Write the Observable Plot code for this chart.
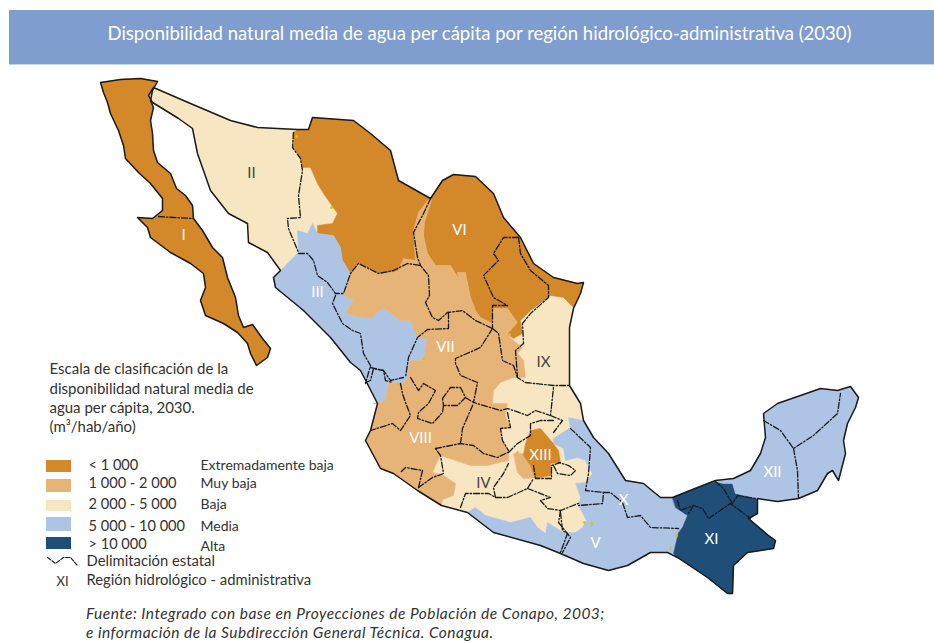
<!DOCTYPE html>
<html><head><meta charset="utf-8">
<script src="https://cdn.jsdelivr.net/npm/d3@7"></script>
<script src="https://cdn.jsdelivr.net/npm/@observablehq/plot@0.6"></script>
<style>
html,body{margin:0;padding:0;background:#fff;width:934px;height:642px;overflow:hidden;font-family:Lato,sans-serif}
#banner{position:absolute;left:9px;top:10px;width:925px;height:55px;background:#7f9ecf;border-bottom:1px solid #c5d5ec;box-sizing:border-box;color:#fff;font-size:18.5px;line-height:46px;text-align:center;padding-left:16px;white-space:nowrap}
#chart{position:absolute;left:0;top:65px}
#foot{position:absolute;left:86px;top:604px;font-size:15.5px;letter-spacing:.47px;font-style:italic;line-height:19px;color:#333;white-space:nowrap}
</style></head><body>
<div id="banner">Disponibilidad natural media de agua per cápita por región hidrológico-administrativa (2030)</div>
<div id="chart"></div>
<div id="foot">Fuente: Integrado con base en Proyecciones de Población de Conapo, 2003;<br>e información de la Subdirección General Técnica. Conagua.</div>
<script>
const classes=["< 1 000","1 000 - 2 000","2 000 - 5 000","5 000 - 10 000","> 10 000"];
const classNames=["Extremadamente baja","Muy baja","Baja","Media","Alta"];
const classColors=["#d38829","#e6b476","#f7e6c1","#aec4e4","#1f4e79"];

const baja=[[100,82],[120,79],[140,78],[157,81],[152,90],[150,100],[153,107],[150,120],[152,133],[153,150],[157,162],[170,173],[176,188],[185,195],[192,205],[193,218],[202,230],[212,247],[222,257],[227,277],[235,297],[238,315],[243,327],[252,324],[262,338],[270,348],[267,357],[256,365],[250,353],[247,343],[237,332],[223,323],[205,315],[200,300],[205,287],[203,273],[190,263],[170,252],[150,237],[147,227],[137,217],[152,218],[162,210],[162,198],[150,183],[138,172],[125,158],[123,145],[118,130],[110,113],[107,102],[103,92]];

const mainland=[[153,87],[190,103],[230,120],[257,127],[297,129],[308,129],[312,117],[353,120],[370,133],[390,150],[398,180],[430,198],[442,180],[453,174],[475,176],[493,193],[503,217],[520,237],[533,263],[553,277],[577,283],[583,282],[580,293],[573,308],[569,327],[569,385],[580,403],[583,420],[593,437],[608,453],[625,480],[643,483],[660,497],[672,497],[697,487],[715,480],[733,478],[750,470],[760,453],[765,437],[763,413],[777,403],[800,395],[820,388],[837,390],[850,386],[858,397],[855,407],[847,423],[843,440],[845,453],[838,480],[832,470],[827,473],[817,490],[798,498],[777,501],[757,498],[757,513],[748,518],[768,535],[775,540],[773,548],[747,552],[733,565],[732,593],[727,593],[707,577],[677,557],[667,552],[650,552],[627,565],[608,570],[583,563],[560,553],[540,545],[493,532],[467,512],[441,505],[417,490],[393,473],[380,468],[365,440],[370,430],[377,403],[360,370],[350,362],[330,337],[303,310],[275,287],[273,277],[280,270],[267,252],[248,242],[247,223],[228,213],[210,190],[197,153],[192,128],[178,118],[170,113],[152,102],[148,95]];

const orangeNorth=[[293,132],[297,129],[308,129],[312,117],[353,120],[370,133],[390,150],[398,180],[430,198],[442,180],[453,174],[475,176],[493,193],[503,217],[520,237],[533,263],[553,277],[577,283],[583,282],[580,293],[573,307],[563,297],[550,295],[530,310],[520,320],[522,333],[513,338],[507,333],[517,322],[507,308],[493,308],[492,323],[480,317],[475,310],[470,297],[465,272],[457,272],[458,278],[450,265],[435,265],[427,253],[423,235],[424,222],[431,199],[428,199],[418,212],[413,230],[415,260],[403,258],[398,270],[393,272],[378,273],[358,263],[350,273],[342,260],[340,247],[333,235],[317,233],[317,225],[332,223],[337,213],[330,203],[323,193],[317,183],[310,167],[302,167],[300,157],[293,147]];

const blueWest=[[280,270],[298,252],[297,230],[307,233],[312,223],[317,233],[333,235],[340,247],[342,260],[350,273],[343,295],[353,300],[345,312],[353,315],[370,318],[383,307],[400,320],[410,320],[417,337],[427,338],[423,360],[410,360],[407,377],[403,383],[388,382],[385,400],[373,403],[377,403],[360,370],[350,362],[330,337],[303,310],[275,287],[273,277]];

const tanCentral=[[350,273],[358,263],[378,273],[393,272],[398,270],[403,258],[415,260],[413,230],[418,212],[428,199],[431,199],[424,222],[423,235],[427,253],[435,265],[450,265],[458,278],[457,272],[465,272],[470,297],[475,310],[480,317],[492,323],[493,308],[507,308],[517,322],[507,333],[513,340],[522,347],[517,353],[523,360],[525,377],[513,377],[500,382],[493,390],[492,403],[507,403],[505,415],[510,428],[500,428],[502,440],[508,450],[508,460],[487,465],[470,465],[440,455],[435,465],[432,472],[443,475],[455,483],[453,495],[442,499],[441,505],[417,490],[393,473],[380,468],[365,440],[370,430],[377,403],[373,403],[385,400],[388,382],[403,383],[407,377],[410,360],[423,360],[427,338],[417,337],[410,320],[400,320],[383,307],[370,318],[353,315],[345,312],[353,300],[343,295]];
const tanValley=[[513,453],[523,453],[537,477],[523,478],[517,472]];
const orangeValley=[[525,443],[530,430],[540,428],[552,442],[558,450],[560,462],[550,463],[551,475],[535,478],[530,465],[523,455]];

const blueEast=[[467,512],[475,507],[485,515],[510,522],[530,517],[537,527],[545,533],[547,522],[563,532],[575,532],[582,527],[586,520],[578,505],[580,497],[575,483],[585,482],[592,473],[585,460],[577,457],[565,460],[563,448],[553,443],[553,438],[570,427],[568,417],[582,420],[593,437],[608,453],[625,480],[643,483],[660,497],[672,497],[675,507],[687,515],[682,527],[678,532],[673,553],[667,552],[650,552],[627,565],[608,570],[583,563],[560,553],[540,545],[493,532]];

const navy=[[672,497],[697,487],[715,481],[723,483],[732,483],[735,493],[757,498],[757,513],[748,518],[768,535],[775,540],[773,548],[747,552],[733,565],[732,593],[727,593],[707,577],[677,557],[673,553],[678,532],[682,527],[687,515],[675,507]];

const blueYucatan=[[715,481],[733,478],[750,470],[760,453],[765,437],[763,413],[777,403],[800,395],[820,388],[837,390],[850,386],[858,397],[855,407],[847,423],[843,440],[845,453],[838,480],[832,470],[827,473],[817,490],[798,498],[777,501],[757,498],[735,493],[732,483],[723,483]];

const stateLines=[
[[158,216],[173,217],[193,218]],
[[293,132],[292,147],[300,158],[302,170],[298,195],[300,217],[287,218],[288,228],[298,252]],
[[298,253],[307,253],[313,260],[317,275],[327,282],[335,293],[343,293],[350,273],[358,263],[378,273],[393,270],[407,263],[420,265],[428,275],[429,295],[425,302],[432,317],[438,320],[447,312],[462,310],[475,320],[492,328]],
[[430,198],[423,213],[413,232],[417,257],[420,265]],
[[518,237],[503,237],[493,253],[498,260],[483,275],[493,297],[507,305],[492,305],[492,328]],
[[518,237],[520,253],[530,270],[548,285],[548,297],[530,313],[522,323],[523,343],[515,350],[517,377]],
[[492,328],[498,333],[502,360],[513,365],[517,377],[525,382],[553,385],[569,385]],
[[448,312],[448,328],[427,329],[417,337],[408,357],[405,377]],
[[492,328],[480,347],[455,358],[455,363],[460,375],[477,382],[473,402],[500,410],[507,408],[527,415],[535,410],[550,415],[553,387]],
[[550,415],[562,420],[553,432]],
[[570,428],[590,447],[588,473],[585,490],[603,492],[602,503],[578,505]],
[[603,492],[610,492],[622,502],[627,517],[640,515],[650,527],[678,528]],
[[560,512],[562,530],[567,533],[560,552]],
[[435,448],[460,443],[473,445],[483,453],[497,457],[507,452]],
[[460,443],[462,428],[473,403]],
[[442,398],[450,387],[460,387],[465,397],[457,405],[443,405],[442,398]],
[[465,397],[473,402]],
[[400,383],[402,393],[405,402],[410,415],[400,430],[392,423],[370,430]],
[[410,377],[418,390],[423,383],[435,390],[428,403],[418,412],[417,418],[432,423],[442,412],[443,405]],
[[418,487],[422,470],[405,467],[400,472]],
[[418,487],[432,477],[443,473],[440,455],[435,448]],
[[460,507],[465,493],[488,493],[495,497],[493,487],[503,473],[508,463]],
[[495,497],[507,497],[527,488],[533,478]],
[[527,488],[550,497],[540,500],[547,508],[560,510],[580,502]],
[[560,510],[558,522],[570,537],[562,552]],
[[533,465],[535,478],[551,478],[551,465],[560,462]],
[[553,465],[557,473],[570,475],[575,470],[568,465],[558,462]],
[[507,412],[510,427],[500,428],[502,440],[508,450]],
[[508,452],[517,443],[530,435],[530,423],[540,420],[553,420]],
[[763,420],[780,430],[793,448],[813,435],[837,413],[840,393]],
[[793,448],[797,470],[798,498]],
[[677,500],[680,510],[693,505],[702,508],[708,518],[730,503],[742,512],[750,518]],
[[693,505],[688,513]],
[[715,481],[723,488],[727,495],[732,503],[737,495],[755,498]],
[[335,295],[332,303],[342,323],[352,330],[360,333],[363,353],[370,365],[365,383]],
[[370,367],[383,370],[390,380],[403,377]],
[[365,382],[370,380],[373,368],[383,370],[385,380],[392,382]]
];
const yellowSpots=[[296,136],[331,207],[509,334],[423,358],[676,535],[670,548],[584,522],[591,523],[398,384],[517,452]];

const regionLabels=["I","II","III","VI","VII","VIII","IX","IV","XIII","X","V","XI","XII"];
const regionX=[183,251,317,459,445,420,543,483,540,623,595,711,772];
const regionY=[235,173,292,230,347,438,362,483,455,500,543,539,472];
const regionDark=[false,true,false,false,false,false,true,true,false,false,false,false,false];

const legendTitle=["Escala de clasificación de la","disponibilidad natural media de","agua per cápita, 2030.","(m³/hab/año)"];
const legendTitleY=[369,389,408,427];
const swatchY1=[460,479,500,517,537];
const swatchY2=[472,492,511,531,549];
const rangeY=[465,483,504,526,544];
const nameY=[465,483,504,526,546];

const polys=[
  ["orangeNorth",classes[0],orangeNorth],["blueWest",classes[3],blueWest],["tanCentral",classes[1],tanCentral],
  ["blueEast",classes[3],blueEast],["navy",classes[4],navy],["blueYucatan",classes[3],blueYucatan],
  ["tanValley",classes[1],tanValley],["orangeValley",classes[0],orangeValley]
];
const rows=[];
const add=(id,cls,pts)=>pts.forEach(p=>rows.push({id,cls,x:p[0],y:p[1]}));
add("baja",classes[0],baja);
add("mainland",classes[2],mainland);
polys.forEach(p=>add(...p));
const lines=stateLines.flatMap((l,i)=>l.map(p=>({id:i,x:p[0],y:p[1]})));
const outline=[["b",baja],["m",mainland]].flatMap(([id,l])=>l.map(p=>({id,x:p[0],y:p[1]})));
const ff="Lato, sans-serif";

const plot=Plot.plot({
  width:934,height:535,margin:0,
  x:{domain:[0,934],range:[0,934],axis:null},
  y:{domain:[65,600],range:[0,535],axis:null},
  color:{domain:classes,range:classColors},
  style:{background:"#fff",fontFamily:ff},
  marks:[
    Plot.line(rows,{x:"x",y:"y",z:"id",fill:"cls",stroke:"cls",strokeWidth:0.5,curve:"linear-closed"}),
    Plot.dot(yellowSpots,{x:d=>d[0],y:d=>d[1],r:1.5,fill:"#d8c020"}),
    Plot.line(lines,{x:"x",y:"y",z:"id",stroke:"#1a1a1a",strokeWidth:1.3,strokeDasharray:"6 2 1.5 2"}),
    Plot.line(outline,{x:"x",y:"y",z:"id",stroke:"#1a1a1a",strokeWidth:1.5,curve:"linear-closed"}),
    Plot.text(regionLabels,{x:(d,i)=>regionX[i],y:(d,i)=>regionY[i],text:d=>d,fontSize:15,fill:(d,i)=>regionDark[i]?"#444":"#fff"}),
    Plot.text(legendTitle,{x:()=>49,y:(d,i)=>legendTitleY[i],text:d=>d,textAnchor:"start",fontSize:15,fill:"#333"}),
    Plot.rect(classes,{x1:()=>46,x2:()=>71,y1:(d,i)=>swatchY1[i],y2:(d,i)=>swatchY2[i],fill:d=>d}),
    Plot.text(classes,{x:()=>88,y:(d,i)=>rangeY[i],text:d=>d,textAnchor:"start",fontSize:14.6,fill:"#333"}),
    Plot.text(classNames,{x:()=>200,y:(d,i)=>nameY[i],text:d=>d,textAnchor:"start",fontSize:14,fill:"#333"}),
    Plot.line([[47,557],[55,563],[63,557],[70,557],[77,565]],{x:d=>d[0],y:d=>d[1],stroke:"#1a1a1a",strokeWidth:1.1,strokeDasharray:"4 1.5"}),
    Plot.text(["Delimitación estatal","Región hidrológico - administrativa"],{x:()=>86,y:(d,i)=>[561,580][i],text:d=>d,textAnchor:"start",fontSize:14.8,fill:"#333"}),
    Plot.text(["XI"],{x:()=>62,y:()=>581,text:d=>d,fontSize:13,fill:"#333"})
  ]
});
document.getElementById("chart").appendChild(plot);
</script></body></html>
